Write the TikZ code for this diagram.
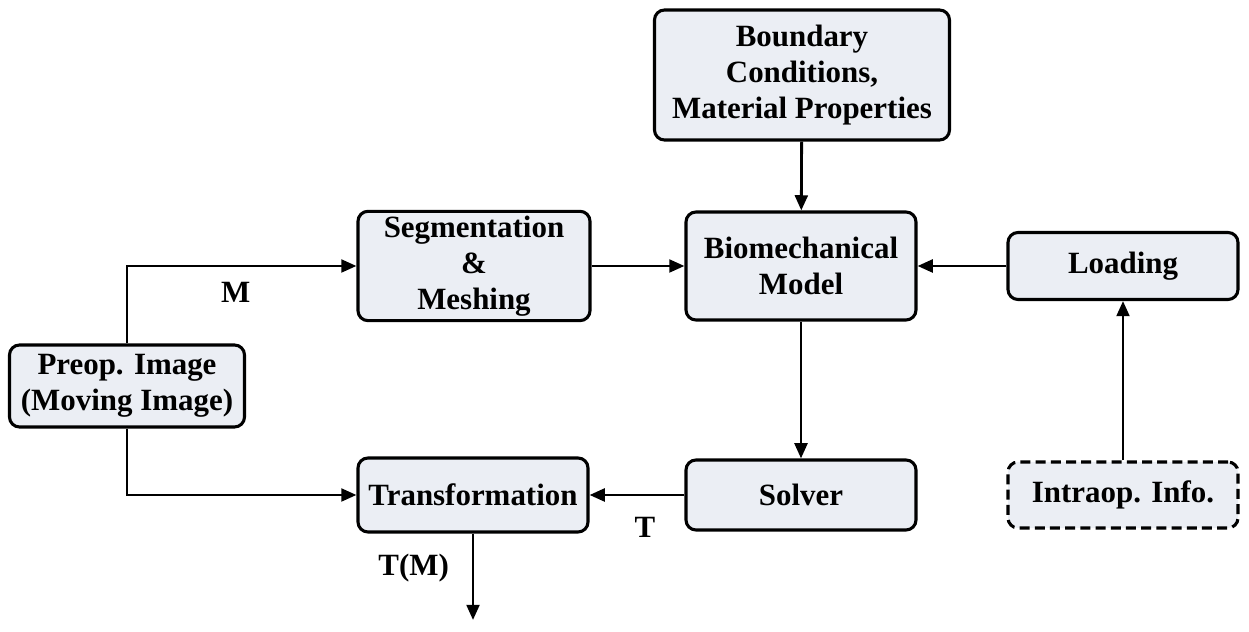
\documentclass[tikz,border=0pt]{standalone}
\usepackage{fontspec}
\setmainfont{Liberation Serif}
\usetikzlibrary{arrows.meta}
\definecolor{boxfill}{HTML}{EBEEF4}
\tikzset{
  block/.style={draw, line width=2.2pt, rounded corners=0.25cm, fill=boxfill,
    align=center, minimum width=5.75cm, font=\fontsize{22}{25.5}\selectfont\bfseries},
  flow/.style={line width=2pt, -{Triangle[length=0.38cm, width=0.32cm]}},
  lbl/.style={font=\fontsize{22}{25.5}\selectfont\bfseries}
}

\begin{document}
\begin{tikzpicture}
\useasboundingbox (0,0) rectangle (31.225,15.8);
% Blocks:
\node (bc) [block, minimum width=7.375cm, minimum height=3.25cm] at (20.05,13.925) {Boundary\\Conditions,\\Material Properties};
\node (seg) [block, minimum width=5.8cm, minimum height=2.7cm] at (11.85,9.15) {Segmentation\\\&\\Meshing};
\node (bio) [block, minimum height=2.7cm] at (20.025,9.15) {Biomechanical\\Model};
\node (load) [block, minimum height=1.675cm] at (28.075,9.15) {Loading};
\node (preop) [block, minimum width=5.875cm, minimum height=2.05cm] at (3.175,6.15) {Preop. Image\\(Moving Image)};
\node (trans) [block, minimum height=1.85cm] at (11.825,3.425) {Transformation};
\node (solver) [block, minimum height=1.75cm] at (20.025,3.425) {Solver};
\node (intra) [block, dash pattern=on 0.25cm off 0.13cm, minimum height=1.65cm] at (28.075,3.425) {Intraop. Info.};
\coordinate (out) at (11.825,0.3);
% Connections:
\draw[flow] (bc) -- (bio);
\draw[flow] (seg) -- (bio);
\draw[flow] (load) -- (bio);
\draw[flow] (bio) -- (solver);
\draw[flow] (intra) -- (load);
\draw[flow] (solver) -- node[lbl, below=0.4cm, xshift=0.2cm] {T} (trans);
\draw[flow] (preop.north) |- node[lbl, pos=0.75, below=0.25cm, xshift=-0.15cm] {M} (seg.west);
\draw[flow] (preop.south) |- (trans.west);
\draw[flow] (trans.south) -- node[lbl, left=0.45cm, pos=0.4] {T(M)} (out);
\end{tikzpicture}
\end{document}
